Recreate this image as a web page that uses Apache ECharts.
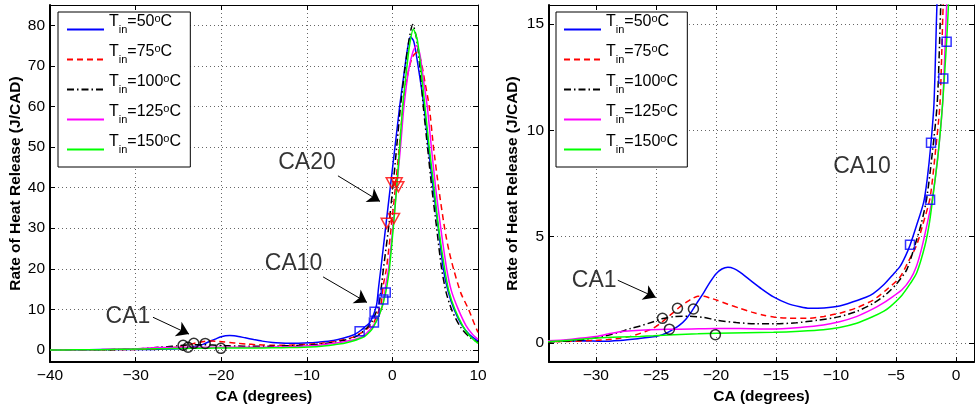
<!DOCTYPE html>
<html><head><meta charset="utf-8">
<script src="https://cdn.jsdelivr.net/npm/echarts@6/dist/echarts.min.js"></script>
<style>html,body{margin:0;padding:0;background:#fff}#c{width:977px;height:410px}</style>
</head><body><div id="c"></div>
<script>
// ---------- data ----------
const inletTemps = [50, 75, 100, 125, 150];
const t50 = [[-40,0],[-37,0.02],[-34,0.08],[-31,0.1],[-29.5,0.08],[-28,0.12],[-26.5,0.2],[-25,0.3],[-24.5,0.38],[-24,0.5],[-23.5,0.66],[-23,0.85],[-22.5,1.12],[-22,1.5],[-21.5,1.95],[-21,2.38],[-20.5,2.85],[-20,3.25],[-19.5,3.48],[-19,3.56],[-18.5,3.5],[-18,3.33],[-17.2,2.98],[-16.2,2.55],[-15.2,2.17],[-14,1.85],[-13,1.7],[-12.2,1.63],[-11,1.65],[-9.7,1.74],[-8.5,1.95],[-7.5,2.15],[-6.9,2.32],[-6,2.75],[-5.2,3.25],[-4.66,3.6],[-4.2,4.1],[-3.83,4.6],[-3.3,5.5],[-2.7,6.6],[-2.4,7.7],[-2.1,9.3],[-1.83,11.3],[-1.61,15.5],[-1.35,20],[-0.8,30],[-0.25,40],[0.3,50],[0.85,60],[1.35,68],[1.75,74],[2.1,77.2],[2.5,76],[3.0,70],[3.69,60],[4.2,50],[4.75,40],[5.36,30],[5.95,20],[6.5,14.5],[7.2,10],[8,6.5],[9,3.8],[10,2.2]];
const t75 = [[-40,0],[-37,0.02],[-34,0.05],[-32,0.08],[-30,0.12],[-29,0.16],[-28,0.22],[-27.1,0.31],[-26.3,0.45],[-25.2,0.7],[-24.5,0.98],[-24,1.22],[-23.5,1.45],[-23,1.7],[-22.5,1.9],[-22,2.08],[-21.5,2.2],[-21,2.2],[-20.5,2.12],[-19.9,2.01],[-19,1.82],[-18,1.63],[-17,1.45],[-16,1.3],[-15.2,1.22],[-14,1.17],[-12.4,1.16],[-11,1.25],[-9.7,1.4],[-8.3,1.65],[-6.9,2.02],[-5.8,2.5],[-4.66,3.1],[-4,3.8],[-3.28,4.6],[-2.8,5.5],[-2.17,6.8],[-1.75,8.8],[-1.33,11.3],[-1.06,16],[-0.7,20],[-0.15,30],[0.35,40],[0.8,50],[1.25,60],[1.75,67.5],[2.3,72],[2.85,73.3],[3.3,71.5],[3.8,66],[4.3,60],[4.8,50],[5.4,40],[6.1,30],[6.6,24.5],[7.2,19.5],[8.0,14],[8.9,10],[9.5,6.8],[10,4.3]];
const t100 = [[-40,0],[-37,0.02],[-34,0.05],[-32,0.1],[-30.5,0.2],[-29.4,0.31],[-28.2,0.48],[-27.1,0.68],[-26.3,0.8],[-25.2,1.0],[-24.5,1.14],[-23.5,1.24],[-22.2,1.26],[-21,1.2],[-19.9,1.07],[-18.3,0.96],[-16.6,0.9],[-15,0.9],[-13.3,0.95],[-11.5,1.07],[-9.7,1.24],[-8.2,1.5],[-6.9,1.86],[-5.8,2.3],[-4.94,2.79],[-4.1,3.45],[-3.42,4.6],[-2.9,5.6],[-2.44,6.8],[-2.0,8.8],[-1.56,11.3],[-1.32,15],[-1.05,20],[-0.45,30],[0.05,40],[0.5,50],[0.95,60],[1.45,69],[1.95,76.5],[2.37,80.2],[2.8,77],[3.2,70],[3.61,60],[4.1,50],[4.6,40],[5.17,30],[5.75,20],[6.3,14],[7.0,9.5],[8,5.5],[9,3.2],[10,1.9]];
const t125 = [[-40,0],[-37,0.02],[-34,0.1],[-32,0.18],[-30,0.3],[-29,0.42],[-28,0.53],[-27,0.58],[-25.5,0.62],[-24,0.64],[-22,0.66],[-20,0.68],[-18,0.68],[-16,0.66],[-14.5,0.67],[-13,0.73],[-11.05,0.85],[-9.7,1.0],[-8.3,1.24],[-7,1.58],[-6,1.9],[-5.5,2.09],[-4.5,2.5],[-3.8,3.0],[-3.3,3.6],[-2.86,4.45],[-2.4,5.6],[-1.97,6.8],[-1.55,8.6],[-1.11,11.3],[-0.77,16],[-0.45,20],[0.05,30],[0.5,40],[0.95,50],[1.35,60],[1.9,69],[2.4,73.5],[2.8,75],[3.2,73],[3.6,67],[4.07,60],[4.55,50],[5.05,40],[5.65,30],[6.34,20],[6.9,14.5],[7.7,10],[8.6,6],[9.3,4],[10,2.6]];
const t150 = [[-40,0],[-37,0.02],[-34,0.06],[-32,0.14],[-29.9,0.23],[-28,0.28],[-26.3,0.31],[-25.2,0.34],[-23.5,0.39],[-21.5,0.43],[-19.9,0.46],[-17.5,0.48],[-15.2,0.5],[-13,0.55],[-11.05,0.62],[-9.7,0.73],[-8.27,0.93],[-7,1.22],[-6,1.5],[-5.5,1.7],[-4.5,2.25],[-3.8,2.8],[-3.27,3.3],[-2.58,4.6],[-2.2,5.7],[-1.94,6.8],[-1.5,8.8],[-1.11,11.3],[-0.78,14.2],[-0.62,16],[-0.35,20],[0.1,30],[0.5,40],[0.85,50],[1.2,60],[1.6,68],[2.0,75],[2.44,79],[2.9,76.5],[3.35,69],[3.8,60],[4.3,50],[4.86,40],[5.4,30],[6.1,20],[6.6,14.5],[7.3,10],[8.2,6],[9,3.5],[10,1.6]];

const ca1Points = [[-24.45,1.16],[-23.2,1.63],[-21.87,1.6],[-23.87,0.65],[-20.04,0.39]];
const ca10Points = [[-3.83,4.62],[-2.16,6.74],[-2.08,9.42],[-1.06,12.44],[-0.78,14.17]];
const ca20Points = [[-0.67,31.2],[0.19,32.4],[-0.08,41.2],[0.5,41.2],[0.69,40.2]];

const leftNotes = [
  {text:'CA20', at:[-9.98,46.1], from:[-6.36,42.9], to:[-1.45,36.6]},
  {text:'CA10', at:[-11.55,21.3], from:[-8.1,18.0], to:[-2.97,11.7]},
  {text:'CA1',  at:[-30.9,8.3],  from:[-27.97,8.05], to:[-23.76,3.9]}
];
const rightNotes = [
  {text:'CA10', at:[-7.83,8.28]},
  {text:'CA1',  at:[-30.14,2.94], from:[-28.17,2.95], to:[-25.0,2.14]}
];

// ---------- styling ----------
const FONT = "'Liberation Sans', Arial, Helvetica, sans-serif";
const curves = [t50, t75, t100, t125, t150];
const lineColors = ['#0000ff', '#ff0000', '#000000', '#ff00ff', '#00ff00'];
const lineTypes = ['solid', [6, 4], [7, 3, 1.5, 3], 'solid', 'solid'];
const names = inletTemps.map(t => 'T' + t);
const minus = v => String(v).replace('-', '\u2212');

function axis(kind, gridIndex, min, max, step, pos, main, edgeLabels) {
  const isX = kind === 'x';
  return {
    type: 'value', gridIndex, position: pos, min, max,
    minInterval: step, maxInterval: step, splitNumber: Math.round((max - min) / step),
    axisLine: {show: true, onZero: false, lineStyle: {color: '#000', width: main ? 2 : 1}},
    axisTick: {show: true, inside: true, length: 5, lineStyle: {color: '#000', width: 1}},
    axisLabel: {show: main, color: '#000', fontSize: 15.5, fontFamily: FONT, margin: isX ? 6 : 5,
      formatter: minus, showMinLabel: edgeLabels, showMaxLabel: edgeLabels},
    splitLine: {show: main, lineStyle: {color: '#666', type: [1, 3], width: 1}},
    name: main ? (isX ? 'CA (degrees)' : 'Rate of Heat Release (J/CAD)') : '',
    nameLocation: 'middle', nameGap: isX ? 23 : (gridIndex === 0 ? 25 : 28),
    nameTextStyle: {fontWeight: 'bold', fontSize: 15.5, color: '#000', fontFamily: FONT}
  };
}

const xAxis = [
  axis('x', 0, -40, 10, 10, 'bottom', true, true),
  axis('x', 0, -40, 10, 10, 'top', false, false),
  axis('x', 1, -33.9, 1.5, 5, 'bottom', true, false),
  axis('x', 1, -33.9, 1.5, 5, 'top', false, false)
];
const yAxis = [
  axis('y', 0, -3, 85, 10, 'left', true, false),
  axis('y', 0, -3, 85, 10, 'right', false, false),
  axis('y', 1, -0.9, 15.9, 5, 'left', true, false),
  axis('y', 1, -0.9, 15.9, 5, 'right', false, false)
];

const series = [];
[0, 1].forEach(g => {
  const xi = g * 2, yi = g * 2;
  curves.forEach((d, i) => {
    series.push({
      type: 'line', name: names[i], xAxisIndex: xi, yAxisIndex: yi, data: d,
      symbol: 'none', smooth: 0.25, clip: true, z: 2,
      lineStyle: {color: lineColors[i], width: 1.5, type: lineTypes[i]},
      itemStyle: {color: lineColors[i]}, emphasis: {disabled: true}
    });
  });
  const marker = (data, symbol, size, color, rotate) => ({
    type: 'scatter', xAxisIndex: xi, yAxisIndex: yi, data, symbol, symbolSize: size,
    symbolRotate: rotate || 0, clip: true, z: 3, silent: true,
    itemStyle: {color: 'rgba(0,0,0,0)', borderColor: color, borderWidth: 1.5},
    emphasis: {disabled: true}
  });
  series.push(marker(ca1Points, 'circle', 10, '#000'));
  series.push(marker(ca10Points, 'rect', 9, '#0000ff'));
  series.push(marker(ca20Points, 'triangle', [11, 10], '#ff0000', 180));
  const notes = g === 0 ? leftNotes : rightNotes;
  series.push({
    type: 'scatter', xAxisIndex: xi, yAxisIndex: yi, silent: true, z: 4,
    data: notes.map(n => ({name: n.text, value: n.at})),
    symbolSize: 1, itemStyle: {color: 'rgba(0,0,0,0)'},
    label: {show: true, position: 'inside', formatter: '{b}', fontSize: 23, color: '#000', fontFamily: FONT},
    emphasis: {disabled: true},
    markLine: {
      silent: true, symbol: ['none', 'arrow'], symbolSize: 12, animation: false,
      label: {show: false}, lineStyle: {color: '#000', width: 1, type: 'solid'},
      itemStyle: {color: '#000'},
      emphasis: {disabled: true},
      data: notes.filter(n => n.from).map(n => [{coord: n.from}, {coord: n.to}])
    }
  });
});

const richText = {
  t: {fontSize: 16, fontFamily: FONT, color: '#000', verticalAlign: 'top', padding: [1, 0, 0, 0]},
  s: {fontSize: 11, fontFamily: FONT, color: '#000', verticalAlign: 'top', padding: [11, 0, 0, 0]},
  o: {fontSize: 11, fontFamily: FONT, color: '#000', verticalAlign: 'top', padding: [0, 0, 0, 0]},
  p: {fontSize: 1, fontFamily: FONT, verticalAlign: 'top', padding: [32, 0, 0, 0]}
};
function legendFor(left, padLeft) {
  return {
    orient: 'vertical', left, top: 12, data: names, selectedMode: false,
    padding: [1, 9, 1, padLeft], itemWidth: 37, itemHeight: 10, itemGap: -3,
    borderColor: '#000', borderWidth: 1, backgroundColor: '#fff',
    itemStyle: {opacity: 0},
    textStyle: {rich: richText},
    formatter: n => '{t|T}{s|in}{t|=' + n.slice(1) + '}{o|o}{t|C}{p| }'
  };
}

const chart = echarts.init(document.getElementById('c'), null, {renderer: 'canvas'});
chart.setOption({
  animation: false,
  backgroundColor: '#fff',
  grid: [
    {left: 50, top: 5, width: 428, height: 361, show: false},
    {left: 549, top: 5, width: 425, height: 361, show: false}
  ],
  xAxis, yAxis,
  legend: [legendFor(58, 8), legendFor(556, 7)],
  series
});
</script></body></html>
